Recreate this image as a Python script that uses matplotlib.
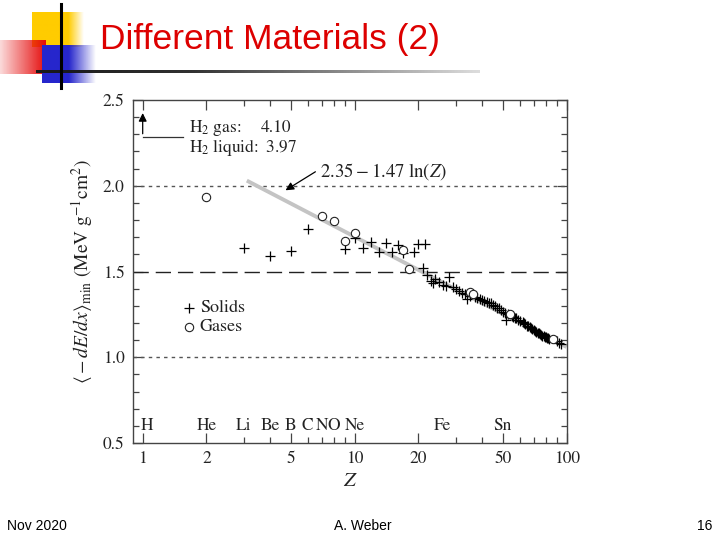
import numpy as np
import matplotlib
matplotlib.use("Agg")
import matplotlib.pyplot as plt

plt.rcParams['mathtext.fontset'] = 'stix'

# stopping power at minimum ionization
solid_z = [3, 4, 5, 6, 9, 10, 11, 12, 13, 14, 15, 16, 17, 19, 20, 21, 21.5, 22, 23, 23.5, 24, 25, 26, 27, 28, 29,
           30, 31, 32, 33, 34, 35, 37, 38, 39, 40, 41, 42, 43, 44, 45, 46, 47, 48, 49, 50, 51, 52, 53,
           55, 56, 57, 58, 59, 60, 62, 63, 64, 65, 66, 67, 68, 69, 70, 71, 72, 73, 74, 75, 76, 77,
           78, 79, 80, 81, 82, 83, 90, 92, 94]
solid_y = [1.636, 1.593, 1.621, 1.750, 1.630, 1.693, 1.636, 1.671, 1.612, 1.665, 1.612, 1.655, 1.610, 1.616,
           1.659, 1.519, 1.66, 1.480, 1.446, 1.431, 1.456, 1.437, 1.421, 1.415, 1.470, 1.407,
           1.398, 1.385, 1.372, 1.366, 1.337, 1.360, 1.353, 1.347, 1.340, 1.335, 1.330, 1.323, 1.318, 1.314,
           1.305, 1.298, 1.290, 1.285, 1.275, 1.265, 1.258, 1.220, 1.250,
           1.240, 1.236, 1.230, 1.226, 1.220, 1.212, 1.205, 1.197, 1.192, 1.185, 1.181, 1.175, 1.168,
           1.163, 1.158, 1.153, 1.148, 1.144, 1.139, 1.134, 1.129, 1.126,
           1.123, 1.120, 1.118, 1.115, 1.112, 1.108, 1.097, 1.084, 1.075]
gas_z = [2, 7, 8, 9, 10, 17, 18, 35, 36, 54, 86]
gas_y = [1.936, 1.822, 1.797, 1.676, 1.723, 1.626, 1.515, 1.382, 1.366, 1.251, 1.109]

fit_z = [3.1, 100]
fit_y = [2.03, 1.06]

elem_names = ['H', 'He', 'Li', 'Be', 'B', 'C', 'N', 'O', 'Ne', 'Fe', 'Sn']
elem_z = [1.05, 2, 3, 4, 5, 6, 7, 8, 10, 26, 50]

fig = plt.figure(figsize=(7.2, 5.4), dpi=100)

# slide decoration
bg = fig.add_axes([0, 0, 1, 1])
bg.set_xlim(0, 720)
bg.set_ylim(540, 0)
bg.axis('off')

def grad_rect(x0, x1, y0, y1, rgb, a_left, a_right, a_mid=None, mid=None):
    n = 200
    t = np.linspace(0, 1, n)
    if mid is None:
        a = a_left + (a_right - a_left) * t
    else:
        a = np.interp(t, [0, mid, 1], [a_left, a_mid, a_right])
    img = np.zeros((1, n, 4))
    img[0, :, :3] = rgb
    img[0, :, 3] = a
    bg.imshow(img, extent=(x0, x1, y1, y0), aspect='auto', interpolation='bilinear')

grad_rect(32, 84, 12, 47, (1.0, 0.8, 0.0), 1, 0, 1, 0.7)
grad_rect(0, 46, 40, 74, (0.9, 0.05, 0.05), 0.15, 1)
grad_rect(42, 96, 45, 83, (0.15, 0.15, 0.8), 1, 0, 1, 0.5)
grad_rect(36, 480, 70, 73, (0.1, 0.1, 0.1), 1, 0.15, 0.9, 0.35)
bg.plot([61, 61], [4, 88], color='black', lw=2.2)
bg.set_xlim(0, 720)
bg.set_ylim(540, 0)

fig.text(100 / 720, 1 - 40 / 540, 'Different Materials (2)', color='#dd0000',
         fontsize=25.5, family='Liberation Sans', va='center', ha='left')
fig.text(7 / 720, 1 - 526 / 540, 'Nov 2020', fontsize=10, family='Liberation Sans', va='center')
fig.text(363 / 720, 1 - 526 / 540, 'A. Weber', fontsize=10, family='Liberation Sans', va='center', ha='center')
fig.text(712 / 720, 1 - 526 / 540, '16', fontsize=10, family='Liberation Sans', va='center', ha='right')

# the chart
ax = fig.add_axes([133 / 720, 1 - 443 / 540, 434 / 720, 343 / 540])
ax.set_xscale('log')
ax.set_xlim(0.9, 100.5)
ax.set_ylim(0.5, 2.5)

ax.axhline(2.0, color='#555555', lw=1.0, ls=(0, (2.5, 3)))
ax.axhline(1.0, color='#555555', lw=1.0, ls=(0, (2.5, 3)))
ax.axhline(1.5, color='#222222', lw=1.0, ls=(0, (11, 5)))

ax.plot(fit_z, fit_y, color='#c4c4c4', lw=2.8, solid_capstyle='butt', zorder=2)
ax.plot(solid_z, solid_y, ls='none', marker='+', ms=7, mew=0.9, color='black', zorder=3)
ax.plot(gas_z, gas_y, ls='none', marker='o', ms=6, mew=0.8, mfc='white', mec='#222222', zorder=4)

ax.annotate('', xy=(4.6, 1.965), xytext=(6.7, 2.09),
            arrowprops=dict(arrowstyle='-|>', color='black', lw=0.9, mutation_scale=12))
ax.text(6.9, 2.085, r'$2.35 - 1.47\ \ln(Z)$', fontsize=13.5, va='center', ha='left', color='#222222')

# H2 off-scale marker
ax.plot([1.0, 1.55], [2.287, 2.287], color='#333333', lw=0.9)
ax.annotate('', xy=(1.0, 2.44), xytext=(1.0, 2.287),
            arrowprops=dict(arrowstyle='-|>', color='black', lw=0.9, mutation_scale=12))
ax.text(1.66, 2.335, r'$\mathrm{H_2\ gas\!:}$', fontsize=12.5, va='center', color='#222222')
ax.text(3.62, 2.335, '4.10', fontsize=12.5, va='center', family='STIXGeneral', color='#222222')
ax.text(1.66, 2.225, r'$\mathrm{H_2\ liquid\!:\ 3.97}$', fontsize=12.5, va='center', color='#222222')

# legend
ax.plot([1.65], [1.29], marker='+', ms=7, mew=0.9, color='black')
ax.plot([1.65], [1.178], marker='o', ms=6, mew=0.8, mfc='white', mec='#222222')
ax.text(1.86, 1.29, 'Solids', fontsize=13, va='center', family='STIXGeneral', color='#222222')
ax.text(1.86, 1.178, 'Gases', fontsize=13, va='center', family='STIXGeneral', color='#222222')

for name, z in zip(elem_names, elem_z):
    ax.text(z, 0.6, name, fontsize=12.5, ha='center', va='center', family='STIXGeneral', color='#222222')

ax.set_xticks([1, 2, 5, 10, 20, 50, 100])
ax.set_xticklabels(['1', '2', '5', '10', '20', '50', '100'])
ax.set_xticks([3, 4, 6, 7, 8, 9, 30, 40, 60, 70, 80, 90], minor=True)
ax.xaxis.set_minor_formatter(matplotlib.ticker.NullFormatter())
ax.set_yticks([0.5, 1.0, 1.5, 2.0, 2.5])
ax.set_yticklabels(['0.5', '1.0', '1.5', '2.0', '2.5'])
ax.set_yticks(np.arange(0.6, 2.5, 0.1), minor=True)
ax.tick_params(which='both', direction='in', top=True, right=True, color='#444444', width=0.9,
               labelsize=12.5, labelcolor='#222222', pad=6)
ax.tick_params(which='major', length=7)
ax.tick_params(which='minor', length=4)
for lab in ax.get_xticklabels() + ax.get_yticklabels():
    lab.set_family('STIXGeneral')
for s in ax.spines.values():
    s.set_color('#444444')
    s.set_linewidth(1.0)

ax.set_xlabel(r'$Z$', fontsize=15, labelpad=2, color='#222222')
ax.set_ylabel(r'$\langle -dE/dx\rangle_{\rm min}\ ({\rm MeV\ g^{-1}cm^2})$', fontsize=14,
              labelpad=6, color='#222222')

fig.savefig('out.png', dpi=100)
